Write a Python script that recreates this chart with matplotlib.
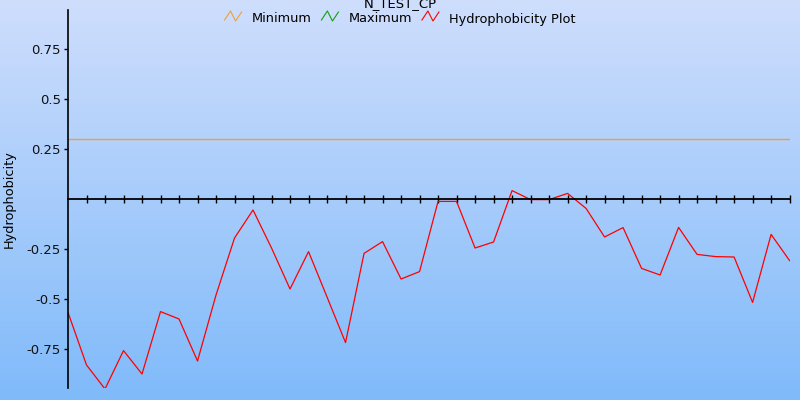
import numpy as np
import matplotlib
matplotlib.use('Agg')
from matplotlib import pyplot as plt
from matplotlib.lines import Line2D

title = 'N_TEST_CP'
y_label = 'Hydrophobicity'
threshold = 0.3
hydro = [-0.567, -0.83, -0.95, -0.758, -0.875, -0.563, -0.60, -0.81, -0.48, -0.195,
         -0.055, -0.245, -0.45, -0.263, -0.49, -0.718, -0.272, -0.213, -0.40, -0.363,
         -0.012, -0.012, -0.245, -0.215, 0.042, -0.003, -0.003, 0.028, -0.047, -0.19,
         -0.143, -0.347, -0.38, -0.142, -0.277, -0.288, -0.29, -0.517, -0.177, -0.308]
y_ticks = [-0.75, -0.5, -0.25, 0.25, 0.5, 0.75]
y_tick_labels = ['-0.75', '-0.5', '-0.25', '0.25', '0.5', '0.75']
legend_names = ['Minimum', 'Maximum', 'Hydrophobicity Plot']
legend_colors = ['#f0a030', '#10a010', '#ff0000']

W, H = 800, 400
fig = plt.figure(figsize=(8, 4), dpi=100)
bg = fig.add_axes([0, 0, 1, 1], zorder=-1)
grad = np.linspace(0, 1, 256).reshape(-1, 1)
top = np.array([0.81, 0.87, 0.99])
bot = np.array([0.50, 0.73, 0.98])
img = top[None, None, :] * (1 - grad[:, :, None]) + bot[None, None, :] * grad[:, :, None]
bg.imshow(img, aspect='auto', extent=[0, 1, 0, 1])
bg.axis('off')

ax = fig.add_axes([0.085, 0.03, 0.902, 0.945])
ax.patch.set_alpha(0)
x = np.arange(len(hydro))
ax.plot(x, hydro, color='#ff0000', lw=0.9)
ax.axhline(threshold, color='#f0a030', lw=1.0)
ax.set_xlim(0, len(hydro) - 1)
ax.set_ylim(-0.945, 0.945)

for s in ['top', 'right']:
    ax.spines[s].set_visible(False)
ax.spines['bottom'].set_position(('data', 0))
ax.spines['bottom'].set_linewidth(1.3)
ax.spines['left'].set_linewidth(1.2)
ax.set_xticks(x[1:])
ax.set_xticklabels([])
ax.tick_params(axis='x', direction='inout', length=6, width=1.0)
ax.set_yticks(y_ticks)
ax.set_yticklabels(y_tick_labels, fontsize=9.5, color='#111111')
ax.tick_params(axis='y', direction='out', length=3, width=1.0, pad=2)
ax.set_ylabel(y_label, fontsize=9.3)
ax.yaxis.set_label_coords(-0.073, 0.5)

# legend row: zigzag icon, then name, placed left to right
renderer = fig.canvas.get_renderer()
icon_w, gap = 17, 10
texts = [fig.text(0, 0, n, fontsize=9.3, va='baseline') for n in legend_names]
widths = [t.get_window_extent(renderer).width for t in texts]
total = sum(icon_w + gap + w for w in widths) + gap * (len(widths) - 1)
cx = W / 2 - total / 2
base = H - 22.5
for t, w, c in zip(texts, widths, legend_colors):
    zx = cx + np.array([0, 0.35, 0.65, 1.0]) * icon_w
    zy = H - np.array([20, 11, 21, 12])
    fig.add_artist(Line2D(zx / W, zy / H, color=c, lw=0.8, transform=fig.transFigure))
    cx += icon_w + gap
    t.set_position((cx / W, base / H))
    cx += w + gap

fig.text(0.5, 0.99, title, ha='center', va='center', fontsize=9.5)

fig.savefig('out.png', dpi=100)
